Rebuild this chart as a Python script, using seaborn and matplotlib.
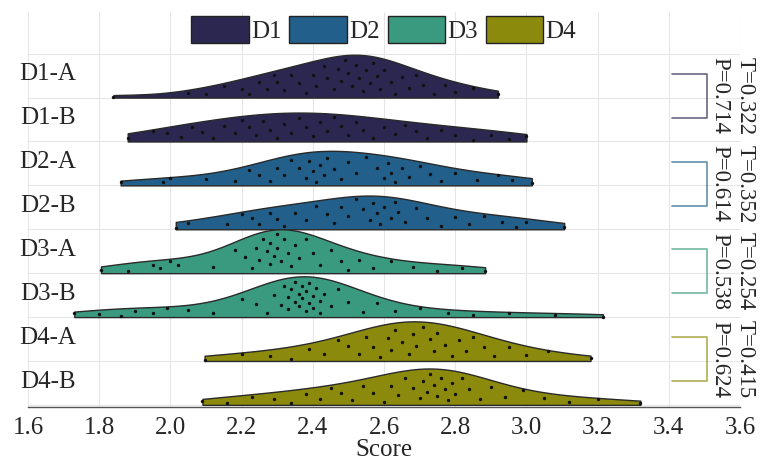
import numpy as np
import pandas as pd
import matplotlib
matplotlib.use("Agg")
import matplotlib.pyplot as plt
from matplotlib.patches import Patch
import seaborn as sns

# ---------------- data ----------------
groups = ["D1-A", "D1-B", "D2-A", "D2-B", "D3-A", "D3-B", "D4-A", "D4-B"]
families = ["D1", "D2", "D3", "D4"]
colors = ["#2b2750", "#225f8a", "#3a9a7f", "#8c8a0c"]

d1a = [1.84, 2.05, 2.10, 2.15, 2.20, 2.22, 2.25, 2.27, 2.29, 2.30, 2.32, 2.34, 2.36, 2.38,
       2.40, 2.41, 2.43, 2.44, 2.46, 2.47, 2.48, 2.49, 2.50, 2.51, 2.52, 2.53, 2.54, 2.55,
       2.56, 2.57, 2.58, 2.59, 2.60, 2.62, 2.63, 2.65, 2.67, 2.69, 2.71, 2.74, 2.77, 2.80,
       2.85, 2.92]
d1b = [1.88, 1.95, 1.99, 2.03, 2.06, 2.09, 2.12, 2.15, 2.18, 2.20, 2.22, 2.24, 2.26, 2.28,
       2.30, 2.32, 2.34, 2.36, 2.38, 2.40, 2.42, 2.44, 2.46, 2.48, 2.50, 2.52, 2.54, 2.57,
       2.60, 2.63, 2.66, 2.69, 2.72, 2.76, 2.80, 2.85, 2.90, 2.95, 3.00]
d2a = [1.86, 1.98, 2.00, 2.10, 2.18, 2.22, 2.25, 2.28, 2.30, 2.32, 2.34, 2.36, 2.38, 2.39,
       2.40, 2.41, 2.42, 2.43, 2.44, 2.46, 2.48, 2.50, 2.52, 2.55, 2.58, 2.60, 2.61, 2.62,
       2.63, 2.65, 2.67, 2.70, 2.73, 2.76, 2.80, 2.86, 2.92, 2.96, 3.015]
d2b = [2.015, 2.05, 2.16, 2.20, 2.23, 2.25, 2.28, 2.30, 2.32, 2.35, 2.38, 2.41, 2.44, 2.46,
       2.48, 2.50, 2.52, 2.54, 2.56, 2.57, 2.58, 2.59, 2.60, 2.62, 2.63, 2.64, 2.66, 2.69,
       2.72, 2.76, 2.80, 2.84, 2.88, 2.93, 2.97, 3.00, 3.106]
d3a = [1.805, 1.88, 1.95, 1.97, 2.00, 2.02, 2.12, 2.18, 2.21, 2.23, 2.24, 2.25, 2.26, 2.27,
       2.28, 2.28, 2.29, 2.30, 2.30, 2.31, 2.32, 2.33, 2.34, 2.35, 2.36, 2.38, 2.40, 2.42,
       2.45, 2.48, 2.50, 2.53, 2.57, 2.62, 2.68, 2.75, 2.82, 2.884]
d3b = [1.73, 1.80, 1.86, 1.90, 1.95, 1.99, 2.05, 2.12, 2.20, 2.24, 2.27, 2.29, 2.31, 2.32,
       2.33, 2.33, 2.34, 2.35, 2.35, 2.36, 2.36, 2.37, 2.37, 2.38, 2.38, 2.39, 2.39, 2.40,
       2.40, 2.41, 2.42, 2.42, 2.43, 2.45, 2.47, 2.50, 2.54, 2.58, 2.63, 2.70, 2.78, 2.85,
       2.95, 3.08, 3.215]
d4a = [2.096, 2.20, 2.28, 2.34, 2.39, 2.43, 2.47, 2.50, 2.53, 2.55, 2.57, 2.59, 2.61, 2.62,
       2.63, 2.65, 2.67, 2.68, 2.69, 2.71, 2.73, 2.74, 2.75, 2.77, 2.79, 2.81, 2.83, 2.85,
       2.88, 2.91, 2.95, 3.00, 3.06, 3.18]
d4b = [2.09, 2.16, 2.23, 2.29, 2.34, 2.38, 2.42, 2.45, 2.48, 2.51, 2.54, 2.57, 2.60, 2.62,
       2.64, 2.66, 2.68, 2.70, 2.71, 2.72, 2.73, 2.74, 2.75, 2.76, 2.77, 2.78, 2.79, 2.80,
       2.82, 2.84, 2.87, 2.90, 2.94, 2.99, 3.05, 3.12, 3.20, 3.32]
all_scores = [d1a, d1b, d2a, d2b, d3a, d3b, d4a, d4b]

stat_T = ["0.322", "0.352", "0.254", "0.415"]
stat_P = ["0.714", "0.614", "0.538", "0.624"]
x_ticks = [1.6, 1.8, 2.0, 2.2, 2.4, 2.6, 2.8, 3.0, 3.2, 3.4, 3.6]

rows = []
for g, vals in zip(groups, all_scores):
    for v in vals:
        rows.append({"group": g, "score": v})
df = pd.DataFrame(rows)

# ---------------- style ----------------
sns.set_style("white")
plt.rcParams["font.family"] = ["Liberation Serif", "DejaVu Serif"]
FS = 18

fig = plt.figure(figsize=(7.66, 4.61), dpi=100)
ax = fig.add_axes([0.0366, 0.117, 0.9295, 0.857])

VW = 1.0
sns.violinplot(data=df, x="score", y="group", order=groups, split=True, inner=None,
               cut=0, density_norm="area", width=VW, color=colors[0], saturation=1,
               linewidth=1.0, linecolor="#2a2a2a", ax=ax)
polys = list(ax.collections)
for i, c in enumerate(polys):
    c.set_facecolor(colors[i // 2])
    c.set_zorder(2)

# jittered points inside the half-violins (height follows the KDE)
def kde(vals, x):
    v = np.asarray(vals)
    bw = v.std(ddof=1) * len(v) ** (-0.2)
    z = (np.asarray(x)[:, None] - v[None, :]) / bw
    return np.exp(-0.5 * z ** 2).sum(axis=1) / (len(v) * bw * np.sqrt(2 * np.pi))

gmax = 0
for vals in all_scores:
    grid = np.linspace(min(vals), max(vals), 200)
    gmax = max(gmax, kde(vals, grid).max())

phi = (np.sqrt(5) - 1) / 2
for i, vals in enumerate(all_scores):
    v = np.asarray(vals)
    h = kde(vals, v) / gmax * VW
    frac = 0.1 + 0.8 * ((np.arange(len(v)) * phi + 0.37 * i) % 1.0)
    base = i + VW / 2
    ax.scatter(v, base - frac * h, s=6, color="#111111", linewidths=0, zorder=3)

# axes
ax.set_xlim(1.6, 3.6)
ax.set_ylim(7.55, -1.45)
ax.set_yticks(np.arange(-0.5, 8.0, 1.0))
ax.set_yticklabels([])
ax.set_ylabel("")
ax.set_xticks(x_ticks)
ax.set_xticklabels([f"{t:.1f}" for t in x_ticks], fontsize=FS)
ax.set_xlabel("Score", fontsize=FS, labelpad=0)
ax.grid(True, color="#e6e6e6", lw=0.8)
ax.set_axisbelow(True)
for s in ["left", "top", "right"]:
    ax.spines[s].set_visible(False)
ax.spines["bottom"].set_color("#555555")
ax.spines["bottom"].set_linewidth(1.0)
ax.tick_params(axis="x", direction="out", length=5, color="#555555", pad=2)
ax.tick_params(axis="y", length=0)

for i, g in enumerate(groups):
    ax.text(1.655, i - 0.03, g, ha="center", va="center", fontsize=FS, zorder=4)

# brackets + stats
for k in range(4):
    y0, y1 = 2 * k - 0.04, 2 * k + 0.96
    ax.plot([3.41, 3.507, 3.507, 3.41], [y0, y0, y1, y1], color=colors[k], alpha=0.7,
            lw=1.2, clip_on=False, zorder=3)
    ax.text(3.578, 2 * k + 0.46, f"T={stat_T[k]}\nP={stat_P[k]}", rotation=-90,
            ha="center", va="center", fontsize=16.5, linespacing=1.3, clip_on=False)

handles = [Patch(facecolor=c, edgecolor="#222222", lw=1.0, label=f) for f, c in zip(families, colors)]
fig.legend(handles=handles, loc="upper center", bbox_to_anchor=(0.501, 0.965), ncol=4,
           frameon=False, fontsize=FS, handlelength=2.3, handleheight=1.25, handletextpad=0.1,
           columnspacing=0.3, borderaxespad=0, borderpad=0)

fig.savefig("out.png", dpi=100)
